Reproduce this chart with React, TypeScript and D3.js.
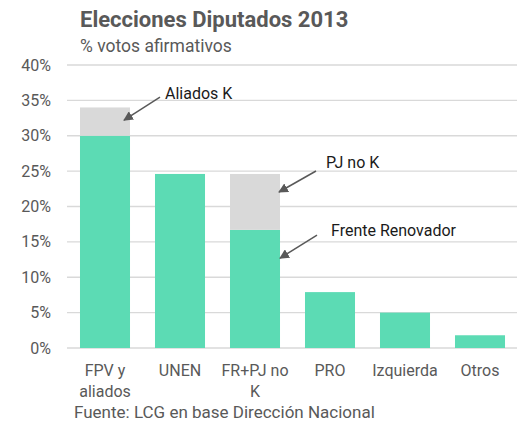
import React from 'react';
import * as d3 from 'd3';

// data
const categories = ['FPV y aliados', 'UNEN', 'FR+PJ no K', 'PRO', 'Izquierda', 'Otros'];
const labelLines = [['FPV y', 'aliados'], ['UNEN'], ['FR+PJ no', 'K'], ['PRO'], ['Izquierda'], ['Otros']];
const baseValues = [30, 24.6, 16.7, 7.9, 5, 1.8];
const extraValues = [4, 0, 7.9, 0, 0, 0];
const yTicks = [0, 5, 10, 15, 20, 25, 30, 35, 40];

// annotations: category, value level the arrow points at, label
const notes = [
  { cat: 'FPV y aliados', level: 32.2, label: 'Aliados K', inset: 6, dx: 36, dy: -23, lx: 5, ly: 2 },
  { cat: 'FR+PJ no K', level: 22.05, label: 'PJ no K', inset: 1, dx: 37, dy: -21, lx: 10, ly: -3 },
  { cat: 'FR+PJ no K', level: 12.7, label: 'Frente Renovador', inset: 0, dx: 37, dy: -23, lx: 14, ly: 1 },
];

const W = 523;
const H = 425;
const FONT = 'Roboto, sans-serif';
const GREEN = '#5cdbb4';
const GREY = '#d9d9d9';
const TEXT = '#595959';

export default function App() {
  const x = d3.scaleBand<string>().domain(categories).range([67.5, 517.5]).paddingInner(0.333).paddingOuter(0.1665);
  const y = d3.scaleLinear().domain([0, 40]).range([348, 65]);

  return (
    <svg width={W} height={H} style={{ position: 'absolute', left: 0, top: 0, fontFamily: FONT }}>
      <defs>
        <marker id="arr" viewBox="0 0 10 10" refX="9" refY="5" markerWidth="6.5" markerHeight="6.5" orient="auto">
          <path d="M0,0 L10,5 L0,10 z" fill="#595959" />
        </marker>
      </defs>
      <rect width={W} height={H} fill="#fff" />
      <text x={80} y={27} fontSize={22} fontWeight="bold" fill={TEXT}>Elecciones Diputados 2013</text>
      <text x={80} y={52} fontSize={17.5} fill={TEXT}>% votos afirmativos</text>

      {yTicks.map(t => (
        <g key={t}>
          <line x1={67} x2={517} y1={y(t)} y2={y(t)} stroke={GREY} strokeWidth={1.3} />
          <text x={51} y={y(t)} dy="0.35em" textAnchor="end" fontSize={16} fill={TEXT}>{t}%</text>
        </g>
      ))}

      {categories.map((c, i) => (
        <g key={c}>
          <rect x={x(c)} width={x.bandwidth()} y={y(baseValues[i])} height={y(0) - y(baseValues[i])} fill={GREEN} />
          {extraValues[i] > 0 && (
            <rect x={x(c)} width={x.bandwidth()} y={y(baseValues[i] + extraValues[i])}
              height={y(baseValues[i]) - y(baseValues[i] + extraValues[i])} fill={GREY} />
          )}
          {labelLines[i].map((l, j) => (
            <text key={j} x={(x(c) as number) + x.bandwidth() / 2} y={376 + j * 21} textAnchor="middle" fontSize={16} fill={TEXT}>{l}</text>
          ))}
        </g>
      ))}

      {notes.map(n => {
        const tx = (x(n.cat) as number) + x.bandwidth() - n.inset;
        const ty = y(n.level);
        return (
          <g key={n.label}>
            <line x1={tx + n.dx} y1={ty + n.dy} x2={tx} y2={ty} stroke="#595959" strokeWidth={1.5} markerEnd="url(#arr)" />
            <text x={tx + n.dx + n.lx} y={ty + n.dy + n.ly} fontSize={16} fill="#1a1a1a">{n.label}</text>
          </g>
        );
      })}

      <text x={74} y={418} fontSize={17} fill={TEXT}>Fuente: LCG en base Dirección Nacional</text>
    </svg>
  );
}
